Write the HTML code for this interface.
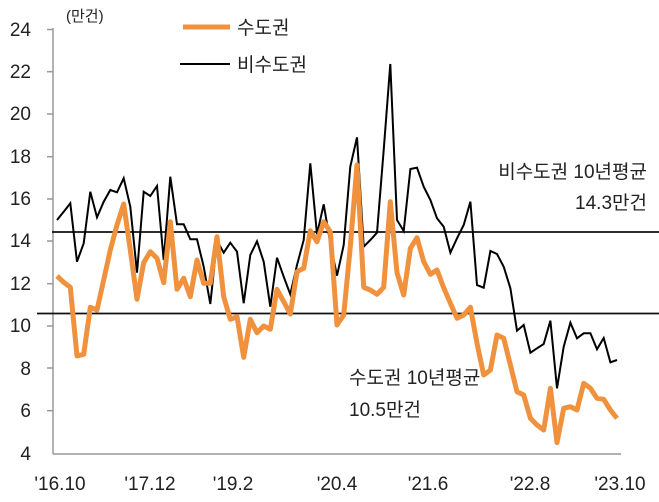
<!DOCTYPE html><html><head><meta charset="utf-8"><style>
body{margin:0;background:#fff;width:659px;height:497px;overflow:hidden}
text{font-family:"Liberation Sans","Noto Sans CJK KR",sans-serif;fill:#222}
</style></head><body>
<svg id="s" width="659" height="497" xmlns="http://www.w3.org/2000/svg">
<line x1="53" y1="28" x2="53" y2="454" stroke="#999" stroke-width="1.5"/>
<line x1="53" y1="454" x2="621" y2="454" stroke="#999" stroke-width="1.5"/>
<g stroke="#999" stroke-width="1.5">
<line x1="47" y1="29.5" x2="53" y2="29.5"/><line x1="47" y1="71.7" x2="53" y2="71.7"/><line x1="47" y1="114" x2="53" y2="114"/><line x1="47" y1="156.7" x2="53" y2="156.7"/><line x1="47" y1="199" x2="53" y2="199"/><line x1="47" y1="241" x2="53" y2="241"/><line x1="47" y1="283.7" x2="53" y2="283.7"/><line x1="47" y1="326" x2="53" y2="326"/><line x1="47" y1="368" x2="53" y2="368"/><line x1="47" y1="410.7" x2="53" y2="410.7"/></g>
<g font-size="19" text-anchor="end">
<text x="31" y="36">24</text><text x="31" y="78">22</text><text x="31" y="120">20</text><text x="31" y="163">18</text><text x="31" y="205">16</text><text x="31" y="247">14</text><text x="31" y="290">12</text><text x="31" y="332">10</text><text x="31" y="375">8</text><text x="31" y="417">6</text><text x="31" y="460">4</text></g>
<text x="66" y="21" font-size="15">(만건)</text>
<line x1="52" y1="232" x2="659" y2="232" stroke="#111" stroke-width="1.8"/>
<line x1="37" y1="313.5" x2="659" y2="313.5" stroke="#111" stroke-width="1.8"/>
<polyline id="b" fill="none" stroke="#000" stroke-width="2" stroke-linejoin="miter"/>
<polyline id="o" fill="none" stroke="#F0913D" stroke-width="5" stroke-linejoin="round"/>
<line x1="183" y1="27" x2="230" y2="27" stroke="#F0913D" stroke-width="5"/>
<text x="237" y="34" font-size="19">수도권</text>
<line x1="180" y1="64" x2="230" y2="64" stroke="#000" stroke-width="2"/>
<text x="237" y="71" font-size="19">비수도권</text>
<g font-size="19" text-anchor="end"><text x="647" y="178">비수도권 10년평균</text><text x="647" y="209">14.3만건</text></g>
<g font-size="19"><text x="349" y="384">수도권 10년평균</text><text x="349" y="416">10.5만건</text></g>
<g font-size="19" text-anchor="middle"><text x="60" y="490">'16.10</text><text x="150" y="490">'17.12</text><text x="233" y="490">'19.2</text><text x="337" y="490">'20.4</text><text x="428" y="490">'21.6</text><text x="530" y="490">'22.8</text><text x="620" y="490">'23.10</text></g>
</svg>
<script>
var B=[510,485,460,635,580,425,502,455,420,427,385,470,668,425,438,408,630,380,523,523,568,568,650,762,572,608,578,605,760,615,574,635,770,623,680,733,645,570,340,553,463,580,677,585,350,262,590,570,548,300,42,510,543,357,353,410,450,505,530,608,565,525,455,705,713,603,612,650,715,842,825,908,895,882,812,1015,890,818,865,850,850,898,864,937,930];
var O=[678,697,712,918,913,772,780,690,600,525,462,600,748,638,605,625,698,515,718,685,740,630,700,700,560,740,808,800,922,808,848,828,838,718,755,792,665,655,542,575,515,545,825,795,590,345,712,720,733,712,455,668,735,595,563,635,673,660,713,760,805,795,772,880,975,960,855,865,945,1025,1035,1105,1125,1140,1015,1178,1075,1070,1080,1000,1015,1045,1048,1080,1105];
function p(a){return a.map(function(v,i){return (57+6.667*i).toFixed(1)+","+(50+v/3).toFixed(1)}).join(" ")}
document.getElementById("b").setAttribute("points",p(B));
document.getElementById("o").setAttribute("points",p(O));
</script>
</body></html>
